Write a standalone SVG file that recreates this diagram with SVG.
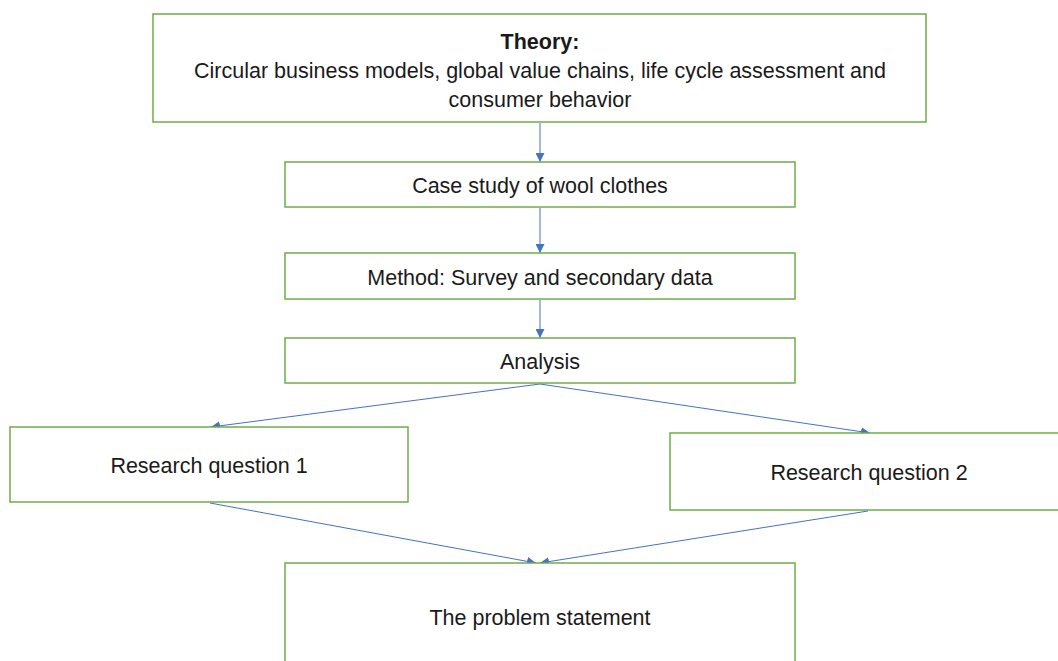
<svg xmlns="http://www.w3.org/2000/svg" width="1058" height="661" viewBox="0 0 1058 661">
  <style>
    .box { fill: #ffffff; stroke: #70AD47; stroke-width: 1.5; }
    .lbl { font-family: "Liberation Sans", Arial, sans-serif; font-size: 21.5px; fill: #1a1a1a; text-anchor: middle; }
    .b { font-weight: bold; }
    .conn { stroke: #4472C4; stroke-width: 1; fill: none; marker-end: url(#arr); }
  </style>
  <defs>
    <marker id="arr" viewBox="0 0 10 10" refX="10" refY="5" markerWidth="9" markerHeight="9" markerUnits="userSpaceOnUse" orient="auto">
      <path d="M0,0 L10,5 L0,10 Z" fill="#4472C4"/>
    </marker>
  </defs>
  <rect width="1058" height="661" fill="#ffffff"/>

  <g id="connectors">
    <line class="conn" x1="540" y1="123" x2="540" y2="162"/>
    <line class="conn" x1="540" y1="208" x2="540" y2="253"/>
    <line class="conn" x1="540" y1="300" x2="540" y2="338"/>
    <line class="conn" x1="540" y1="384" x2="211" y2="427"/>
    <line class="conn" x1="540" y1="384" x2="870" y2="433"/>
    <line class="conn" x1="210" y1="503" x2="536" y2="563"/>
    <line class="conn" x1="868" y1="511" x2="540" y2="563"/>
  </g>

  <g id="theory">
    <rect class="box" x="153" y="14" width="773" height="108"/>
    <text class="lbl b" x="540" y="49">Theory:</text>
    <text class="lbl" x="540" y="78">Circular business models, global value chains, life cycle assessment and</text>
    <text class="lbl" x="540" y="107">consumer behavior</text>
  </g>

  <g id="case-study">
    <rect class="box" x="285" y="162" width="510" height="45"/>
    <text class="lbl" x="540" y="193">Case study of wool clothes</text>
  </g>

  <g id="method">
    <rect class="box" x="285" y="253" width="510" height="46"/>
    <text class="lbl" x="540" y="285">Method: Survey and secondary data</text>
  </g>

  <g id="analysis">
    <rect class="box" x="285" y="338" width="510" height="45"/>
    <text class="lbl" x="540" y="369">Analysis</text>
  </g>

  <g id="rq1">
    <rect class="box" x="10" y="427" width="398" height="75"/>
    <text class="lbl" x="209" y="473">Research question 1</text>
  </g>

  <g id="rq2">
    <rect class="box" x="670" y="433" width="400" height="77"/>
    <text class="lbl" x="869" y="480">Research question 2</text>
  </g>

  <g id="problem">
    <rect class="box" x="285" y="563" width="510" height="110"/>
    <text class="lbl" x="540" y="625">The problem statement</text>
  </g>
</svg>
